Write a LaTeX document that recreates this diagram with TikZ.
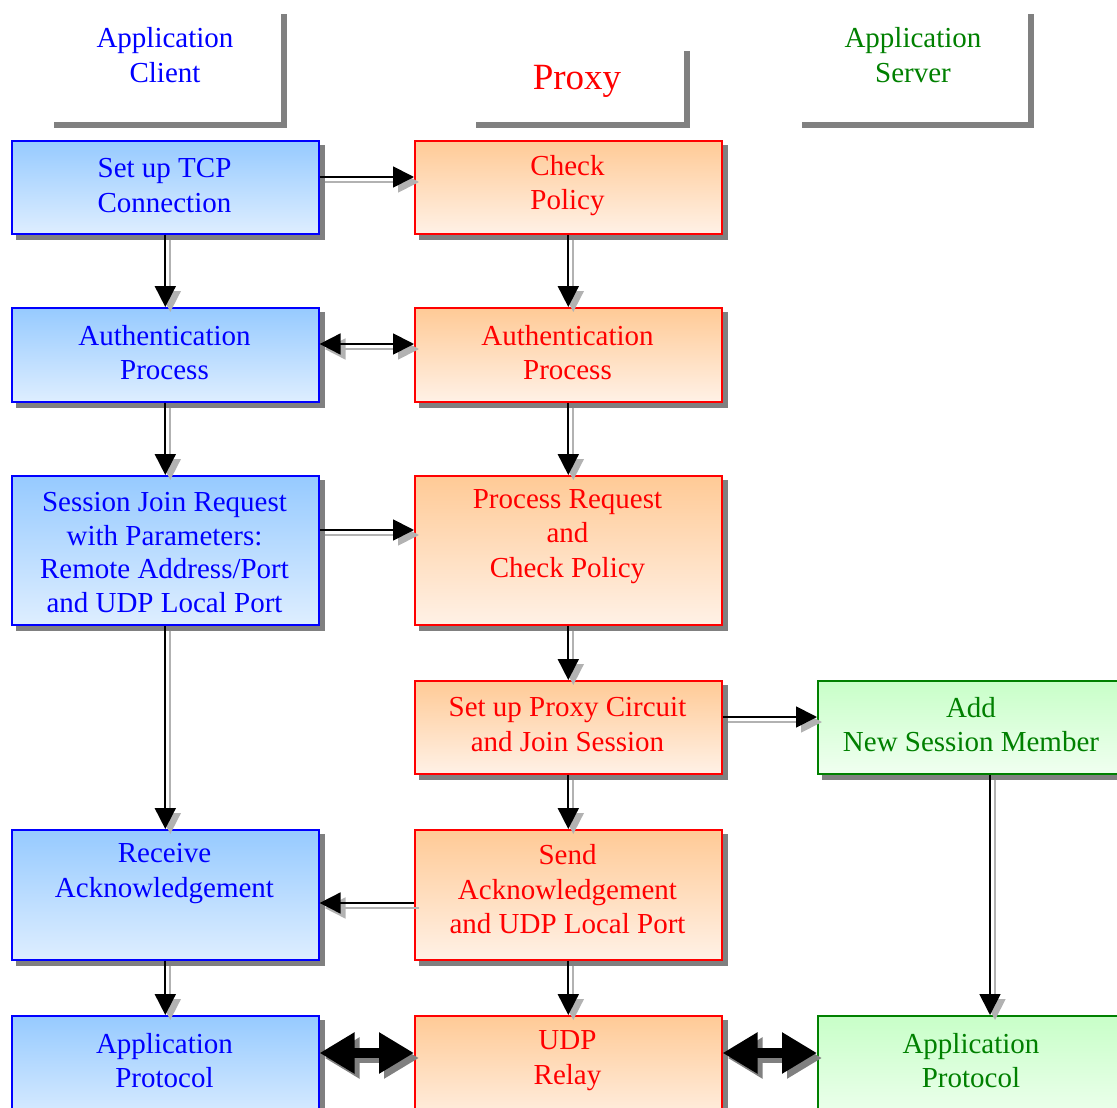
\documentclass[tikz,border=0pt]{standalone}
\usepackage{fontspec}
\setmainfont{Liberation Serif}
\usetikzlibrary{arrows.meta,backgrounds}

\definecolor{cblue}{RGB}{0,0,255}
\definecolor{pred}{RGB}{255,0,0}
\definecolor{sgreen}{RGB}{0,128,0}
\definecolor{ctop}{RGB}{150,202,255}
\definecolor{cbot}{RGB}{222,238,255}
\definecolor{ptop}{RGB}{255,202,150}
\definecolor{pbot}{RGB}{255,241,230}
\definecolor{gtop}{RGB}{200,255,200}
\definecolor{gbot}{RGB}{240,255,240}
\definecolor{shadowgray}{RGB}{128,128,128}

\tikzset{
  box/.style={rectangle, draw, line width=1.6pt, inner sep=0pt, anchor=north west,
              minimum width=307pt},
  cbox/.style={box, draw=cblue, top color=ctop, bottom color=cbot},
  pbox/.style={box, draw=pred, top color=ptop, bottom color=pbot},
  sbox/.style={box, draw=sgreen, top color=gtop, bottom color=gbot, minimum width=308pt},
  txt/.style={align=center, inner sep=0pt, font=\fontsize{29}{34.5}\selectfont},
  ctxt/.style={txt, text=cblue},
  ptxt/.style={txt, text=pred},
  stxt/.style={txt, text=sgreen},
  bracket/.style={draw=shadowgray, line width=6pt},
  tip/.style={-{Triangle[length=21pt,width=21pt]}},
  twoway/.style={{Triangle[length=21pt,width=21pt]}-{Triangle[length=21pt,width=21pt]}},
  flowline/.style={line width=1.8pt, draw=black, tip},
  flowshade/.style={flowline, draw=gray!60, transform canvas={xshift=5pt,yshift=-5pt}},
  bigway/.style={line width=10pt,
     {Triangle[length=35pt,width=39pt]}-{Triangle[length=35pt,width=39pt]}},
}
% a connector with its offset grey shadow underneath
\newcommand\flowlink[2][]{%
  \draw[flowshade,#1] #2;
  \draw[flowline,#1] #2;}

\begin{document}
\begin{tikzpicture}[x=1pt,y=-1pt]
\useasboundingbox (0,0) rectangle (1117,1108);

% column headers
\draw[bracket] (54,125) -- (284,125) -- (284,14);
\draw[bracket] (476,125) -- (687,125) -- (687,51);
\draw[bracket] (802,125) -- (1031,125) -- (1031,14);
\node[ctxt] (hclient) at (165,55) {Application\\Client};
\node[txt, text=pred, font=\fontsize{37}{44}\selectfont] (hproxy) at (577,81) {Proxy};
\node[stxt] (hserver) at (913,55) {Application\\Server};

% client column
\node[cbox, minimum height=93pt]  (tcp)   at (11,140)  {};
\node[cbox, minimum height=94pt]  (cauth) at (11,307)  {};
\node[cbox, minimum height=149pt] (csess) at (11,475)  {};
\node[cbox, minimum height=130pt] (crecv) at (11,829)  {};
\node[cbox, minimum height=110pt] (capp)  at (11,1015) {};

% proxy column
\node[pbox, minimum height=93pt]  (chk)   at (414,140)  {};
\node[pbox, minimum height=94pt]  (pauth) at (414,307)  {};
\node[pbox, minimum height=149pt] (preq)  at (414,475)  {};
\node[pbox, minimum height=93pt]  (pcirc) at (414,680)  {};
\node[pbox, minimum height=130pt] (pack)  at (414,829)  {};
\node[pbox, minimum height=110pt] (udp)   at (414,1015) {};

% server column
\node[sbox, minimum height=93pt]  (sadd)  at (817,680)  {};
\node[sbox, minimum height=110pt] (sapp)  at (817,1015) {};

% box shadows
\begin{scope}[on background layer]
  \foreach \b in {tcp,cauth,csess,crecv,capp,chk,pauth,preq,pcirc,pack,udp,sadd,sapp}
    \fill[shadowgray] ([xshift=5pt,yshift=-5pt]\b.south west)
                      rectangle ([xshift=5pt,yshift=-5pt]\b.north east);
\end{scope}

% box texts
\node[ctxt] (tcpT)   at (164.5,185.5) {Set up TCP\\Connection};
\node[ctxt] (cauthT) at (164.5,352.5) {Authentication\\Process};
\node[ctxt, font=\fontsize{29}{33.7}\selectfont]
            (csessT) at (164.5,552.5) {Session Join Request\\with Parameters:\\Remote Address/Port\\and UDP Local Port};
\node[ctxt] (crecvT) at (164.5,873.5) {Receive\\Acknowledgement};
\node[ctxt] (cappT)  at (164.5,1060.5) {Application\\Protocol};

\node[ptxt] (chkT)   at (567.5,185.5) {Check\\Policy};
\node[ptxt] (pauthT) at (567.5,352.5) {Authentication\\Process};
\node[ptxt] (preqT)  at (567.5,536.5) {Process Request\\and\\Check Policy};
\node[ptxt] (pcircT) at (567.5,724.5) {Set up Proxy Circuit\\and Join Session};
\node[ptxt] (packT)  at (567.5,889.5) {Send\\Acknowledgement\\and UDP Local Port};
\node[ptxt] (udpT)   at (567.5,1060.5) {UDP\\Relay};

\node[stxt] (saddT)  at (971,724.5)  {Add\\New Session Member};
\node[stxt] (sappT)  at (971,1060.5) {Application\\Protocol};

% vertical flows
\flowlink{(tcp) -- (cauth)}
\flowlink{(cauth) -- (csess)}
\flowlink{(csess) -- (crecv)}
\flowlink{(crecv) -- (capp)}
\flowlink{(chk) -- (pauth)}
\flowlink{(pauth) -- (preq)}
\flowlink{(preq) -- (pcirc)}
\flowlink{(pcirc) -- (pack)}
\flowlink{(pack) -- (udp)}
\flowlink{(sadd.south -| 990,0) -- (sapp.north -| 990,0)}

% horizontal flows
\flowlink{(tcp.east |- 0,177) -- (chk.west |- 0,177)}
\flowlink[twoway]{(cauth.east |- 0,344) -- (pauth.west |- 0,344)}
\flowlink{(csess.east |- 0,530) -- (preq.west |- 0,530)}
\flowlink{(pcirc.east |- 0,717) -- (sadd.west |- 0,717)}
\flowlink{(pack.west |- 0,903) -- (crecv.east |- 0,903)}

% data relay
\draw[bigway, draw=shadowgray, transform canvas={xshift=5pt,yshift=-5pt}]
  (capp.east |- 0,1053) -- (udp.west |- 0,1053);
\draw[bigway, draw=black] (capp.east |- 0,1053) -- (udp.west |- 0,1053);
\draw[bigway, draw=shadowgray, transform canvas={xshift=5pt,yshift=-5pt}]
  (udp.east |- 0,1053) -- (sapp.west |- 0,1053);
\draw[bigway, draw=black] (udp.east |- 0,1053) -- (sapp.west |- 0,1053);
\end{tikzpicture}
\end{document}
